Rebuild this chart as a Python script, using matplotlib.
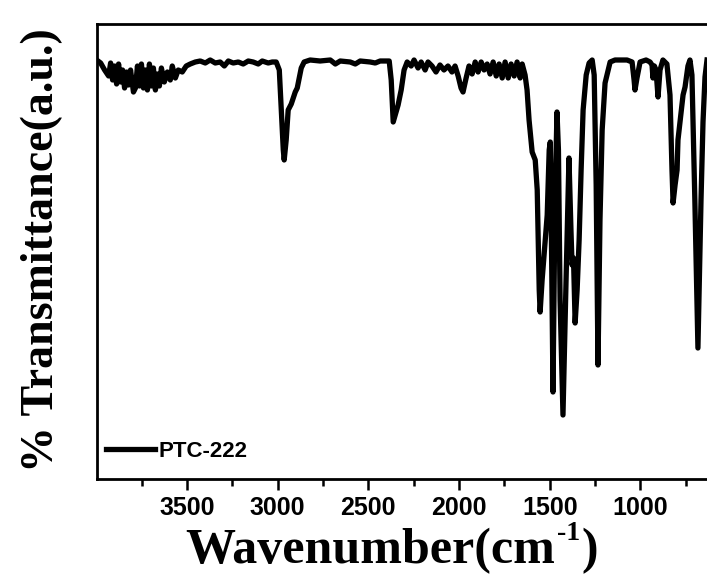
import matplotlib
matplotlib.use("Agg")
import matplotlib.pyplot as plt
from matplotlib.ticker import MultipleLocator

# ---- FTIR spectrum of PTC-222 ----
# wavenumber (cm^-1) and transmittance (a.u.)
wn = [3998, 3976, 3954, 3932, 3921, 3910, 3899, 3888, 3877, 3866,
      3855, 3844, 3833, 3822, 3811, 3795, 3784, 3773, 3762, 3751,
      3740, 3729, 3718, 3707, 3696, 3685, 3674, 3663, 3652, 3641,
      3625, 3608, 3592, 3581, 3564, 3548, 3526, 3504, 3482, 3454,
      3427, 3399, 3372, 3344, 3317, 3294, 3272, 3245, 3217, 3190,
      3162, 3135, 3107, 3085, 3052, 3030, 3008, 2991, 2980, 2969,
      2964, 2953, 2942, 2925, 2914, 2903, 2892, 2881, 2870, 2854,
      2821, 2766, 2710, 2682, 2655, 2600, 2572, 2545, 2490, 2462,
      2435, 2385, 2374, 2363, 2352, 2336, 2319, 2303, 2286, 2264,
      2248, 2226, 2209, 2187, 2171, 2149, 2127, 2105, 2083, 2061,
      2039, 2022, 2005, 1989, 1978, 1961, 1945, 1928, 1911, 1895,
      1878, 1862, 1845, 1829, 1812, 1795, 1779, 1762, 1746, 1729,
      1713, 1696, 1680, 1663, 1652, 1636, 1625, 1614, 1597, 1580,
      1569, 1558, 1553, 1542, 1525, 1514, 1503, 1497, 1490, 1482,
      1471, 1460, 1452, 1443, 1427, 1410, 1394, 1383, 1377, 1369,
      1360, 1349, 1338, 1327, 1316, 1299, 1283, 1266, 1255, 1244,
      1234, 1223, 1211, 1195, 1167, 1140, 1074, 1046, 1035, 1030,
      1019, 1002, 969, 947, 936, 931, 923, 914, 903, 892,
      876, 854, 837, 826, 820, 809, 798, 793, 782, 765,
      754, 738, 727, 716, 700, 683, 666, 655, 644, 633]
trans = [83.8, 83.2, 81.8, 80.6, 83.2, 79.8, 82.6, 79.0, 83.0, 79.4,
         81.8, 78.2, 81.4, 78.8, 81.8, 77.4, 78.2, 82.6, 78.6, 83.0,
         78.2, 81.8, 77.8, 83.0, 78.6, 82.2, 77.8, 81.0, 78.6, 82.2,
         79.4, 81.4, 79.8, 82.6, 80.2, 81.8, 81.4, 82.6, 83.0, 83.4,
         83.6, 83.2, 83.8, 83.2, 83.4, 82.6, 83.6, 83.2, 83.4, 83.0,
         83.6, 83.4, 83.0, 83.6, 83.2, 83.4, 83.4, 81.8, 73.8, 65.8,
         63.8, 67.8, 73.8, 75.0, 76.2, 77.4, 78.2, 80.2, 82.2, 83.4,
         83.8, 83.6, 83.8, 83.0, 83.6, 83.4, 83.0, 83.6, 83.4, 83.2,
         83.6, 83.6, 79.8, 71.4, 72.8, 74.8, 77.8, 81.8, 83.4, 82.6,
         83.8, 82.2, 83.4, 81.8, 83.4, 82.6, 81.4, 82.8, 81.8, 82.6,
         81.4, 82.6, 80.6, 78.2, 77.4, 80.2, 82.6, 81.0, 83.4, 81.4,
         83.4, 81.8, 83.0, 81.0, 83.4, 80.6, 83.0, 80.2, 83.4, 80.2,
         83.0, 80.6, 83.4, 80.2, 83.0, 80.8, 77.8, 71.8, 65.4, 63.8,
         57.8, 37.8, 33.4, 39.8, 47.8, 52.8, 65.8, 67.4, 45.8, 17.4,
         55.8, 73.4, 65.8, 35.8, 12.8, 39.8, 64.2, 49.8, 42.8, 44.2,
         31.2, 37.8, 47.8, 61.8, 73.8, 80.8, 83.2, 83.8, 80.8, 58.8,
         22.8, 51.8, 69.8, 79.2, 83.4, 83.8, 83.8, 83.4, 79.8, 77.8,
         80.2, 83.4, 83.8, 83.4, 82.8, 80.2, 82.6, 81.8, 76.4, 81.8,
         83.8, 83.0, 76.8, 61.8, 55.2, 58.8, 61.8, 67.8, 71.4, 76.8,
         78.4, 82.6, 83.8, 80.8, 55.8, 26.2, 55.8, 71.4, 80.4, 83.8]

label = "PTC-222"
xticks = [3500, 3000, 2500, 2000, 1500, 1000]

fig = plt.figure(figsize=(7.07, 5.79), dpi=100)
ax = fig.add_axes([97 / 707, 100 / 579, 610 / 707, 455 / 579])

ax.plot(wn, trans, color="black", linewidth=3.8, solid_joinstyle="round",
        label=label)

ax.set_xlim(3996, 633)
ax.set_ylim(0, 91)
ax.set_xticks(xticks)
ax.xaxis.set_minor_locator(MultipleLocator(250))
ax.set_yticks([])

for lab in ax.get_xticklabels():
    lab.set_fontfamily("Liberation Sans")
    lab.set_fontweight("bold")
    lab.set_fontsize(18)
ax.tick_params(axis="x", which="major", direction="out", length=8,
               width=1.8, pad=4)
ax.tick_params(axis="x", which="minor", direction="out", length=5, width=1.8)

for side in ["left", "top", "bottom"]:
    ax.spines[side].set_linewidth(2.0)
ax.spines["right"].set_visible(False)

# legend, bottom left, no frame
ax.legend(loc="center left", bbox_to_anchor=(0.015, 0.06), frameon=False,
          borderaxespad=0, borderpad=0, handlelength=2.2, handletextpad=0.15,
          prop={"family": "Liberation Sans", "weight": "bold", "size": 16})

# x label: main text plus a raised "-1" and closing bracket
lab_font = dict(fontweight="bold", fontfamily="Liberation Serif")
t_main = fig.text(185 / 707, 0.027, "Wavenumber(cm", ha="left", va="baseline",
                  fontsize=36, **lab_font)
fig.canvas.draw()
bb = t_main.get_window_extent()
x_end = bb.x1 / fig.bbox.width
t_sup = fig.text(x_end + 0.003, 0.067, "-1", ha="left", va="baseline",
                 fontsize=20, **lab_font)
bb2 = t_sup.get_window_extent()
fig.text(bb2.x1 / fig.bbox.width + 0.002, 0.027, ")", ha="left",
         va="baseline", fontsize=36, **lab_font)

fig.text(42 / 707, 0.568, "% Transmittance(a.u.)", rotation=90,
         ha="center", va="center", fontsize=33, **lab_font)

fig.savefig("out.png", dpi=100)
